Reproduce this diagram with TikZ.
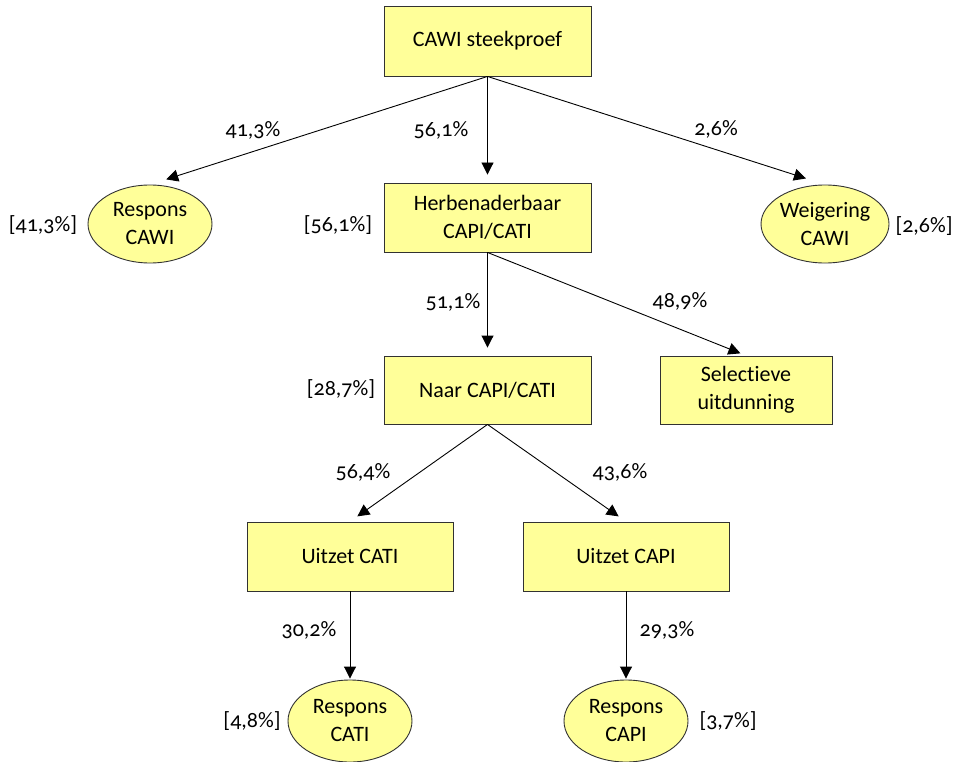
\documentclass[tikz,border=0pt]{standalone}
\usepackage{fontspec}
\setmainfont{Carlito}[Numbers=OldStyle, Ligatures=NoCommon]
\usetikzlibrary{arrows.meta,shapes.geometric}
\definecolor{boxfill}{RGB}{255,255,153}
\definecolor{boxline}{RGB}{50,50,50}
\tikzset{
  x=1pt, y=-1pt,
  every node/.style={font=\fontsize{22}{28}\selectfont, align=center, inner sep=0pt},
  rectbox/.style={draw=boxline, fill=boxfill, line width=0.9pt, rectangle, minimum height=69pt},
  ellbox/.style={draw=boxline, fill=boxfill, line width=0.9pt, ellipse, minimum width=124pt, minimum height=78pt},
  conn/.style={draw=black, line width=0.9pt, -{Triangle[length=12pt,width=12pt]}},
  pct/.style={}
}
\begin{document}
\begin{tikzpicture}
\useasboundingbox (0,0) rectangle (960,762);
% boxes
\node[rectbox, minimum width=207pt, minimum height=70pt] (top) at (487.5,41) {CAWI steekproef};
\node[rectbox, minimum width=207pt] (herb) at (487.5,217.5) {Herbenaderbaar\\CAPI/CATI};
\node[rectbox, minimum width=207pt, minimum height=68pt] (naar) at (487.5,390) {Naar CAPI/CATI};
\node[rectbox, minimum width=172pt, minimum height=68pt] (sel) at (746,390) {Selectieve\\uitdunning};
\node[rectbox, minimum width=206pt] (ucati) at (350,556.5) {Uitzet CATI};
\node[rectbox, minimum width=206pt] (ucapi) at (626,556.5) {Uitzet CAPI};
% ellipses
\node[ellbox] (rcawi) at (150,224) {Respons\\CAWI};
\node[ellbox] (wcawi) at (825,224) {Weigering\\CAWI};
\node[ellbox, minimum height=82pt] (rcati) at (350,721) {Respons\\CATI};
\node[ellbox, minimum height=82pt] (rcapi) at (626,721) {Respons\\CAPI};
% connectors
\draw[conn, shorten >=17pt] (top.south) -- (rcawi.north);
\draw[conn, shorten >=8pt] (top.south) -- (herb.north);
\draw[conn, shorten >=20pt] (top.south) -- (wcawi.north);
\draw[conn, shorten >=8pt] (herb.south) -- (naar.north);
\draw[conn, shorten >=6pt] (herb.south) -- (sel.north);
\draw[conn, shorten >=9pt] (naar.south) -- (ucati.north);
\draw[conn, shorten >=9pt] (naar.south) -- (ucapi.north);
\draw[conn, shorten >=1pt] (ucati.south) -- (rcati.north);
\draw[conn, shorten >=1pt] (ucapi.south) -- (rcapi.north);
% edge labels
\node[pct] (p1) at (253,130) {41,3\%};
\node[pct] (p2) at (441,130) {56,1\%};
\node[pct] (p3) at (716,129) {2,6\%};
\node[pct] (p4) at (453,302) {51,1\%};
\node[pct] (p5) at (680,301) {48,9\%};
\node[pct] (p6) at (363,472) {56,4\%};
\node[pct] (p7) at (620,472) {43,6\%};
\node[pct] (p8) at (309,630) {30,2\%};
\node[pct] (p9) at (667,630) {29,3\%};
% bracket labels
\node[pct] (b1) at (43,225) {[41,3\%]};
\node[pct] (b2) at (338,225) {[56,1\%]};
\node[pct] (b3) at (924,226) {[2,6\%]};
\node[pct] (b4) at (341,389) {[28,7\%]};
\node[pct] (b5) at (252,721) {[4,8\%]};
\node[pct] (b6) at (728,721) {[3,7\%]};
\end{tikzpicture}
\end{document}
